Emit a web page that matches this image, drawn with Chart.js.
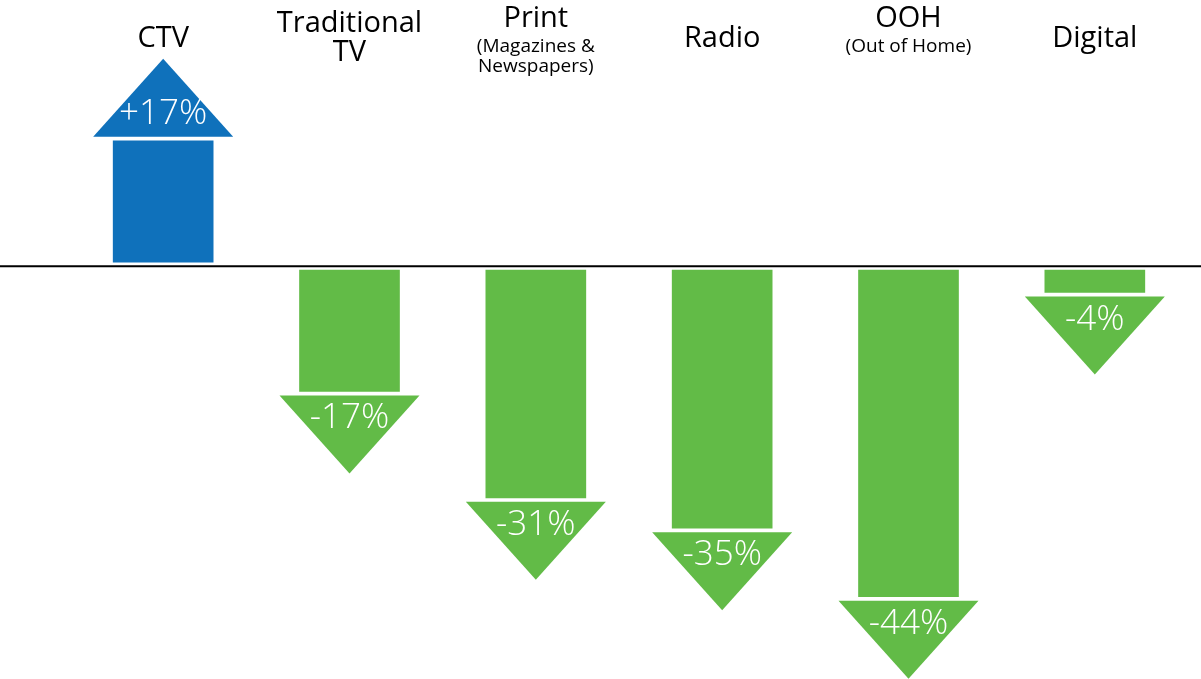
<!DOCTYPE html>
<html>
<head>
<meta charset="utf-8">
<script src="https://cdn.jsdelivr.net/npm/chart.js@4"></script>
<style>
  html, body { margin: 0; padding: 0; background: #fff; }
  #wrap { width: 1201px; height: 679px; }
</style>
</head>
<body>
<div id="wrap"><canvas id="myChart" width="1201" height="679"></canvas></div>
<script>
// media spend change by channel
const categories = ['CTV', 'Traditional TV', 'Print', 'Radio', 'OOH', 'Digital'];
const titleLines = [['CTV'], ['Traditional', 'TV'], ['Print'], ['Radio'], ['OOH'], ['Digital']];
const noteLines = [[], [], ['(Magazines &', 'Newspapers)'], [], ['(Out of Home)'], []];
const changes = [17, -17, -31, -35, -44, -4];

const upColor = 'rgb(15, 113, 187)';
const downColor = 'rgb(98, 187, 71)';

// arrow heads + percent text on each bar
const arrowHeads = {
    id: 'arrowHeads',
    afterDatasetsDraw(chart) {
        const ctx = chart.ctx;
        const meta = chart.getDatasetMeta(0);
        meta.data.forEach((bar, i) => {
            const v = changes[i];
            const dir = v >= 0 ? -1 : 1;
            const half = 70, tall = 78;
            ctx.save();
            ctx.fillStyle = v >= 0 ? upColor : downColor;
            ctx.beginPath();
            ctx.moveTo(bar.x - half, bar.y);
            ctx.lineTo(bar.x + half, bar.y);
            ctx.lineTo(bar.x, bar.y + dir * tall);
            ctx.closePath();
            ctx.fill();
            ctx.fillStyle = '#fff';
            ctx.font = '300 35px "Open Sans", sans-serif';
            ctx.textAlign = 'center';
            ctx.textBaseline = 'middle';
            ctx.fillText((v > 0 ? '+' : '') + v + '%', bar.x, bar.y + dir * 23);
            ctx.restore();
        });
    }
};

// zero line across the whole page
const zeroLine = {
    id: 'zeroLine',
    afterDatasetsDraw(chart) {
        const ctx = chart.ctx;
        const y = chart.scales.y.getPixelForValue(0);
        ctx.save();
        ctx.strokeStyle = '#000';
        ctx.lineWidth = 2;
        ctx.beginPath();
        ctx.moveTo(0, y);
        ctx.lineTo(chart.width, y);
        ctx.stroke();
        ctx.restore();
    }
};

// category headings along the top
const headings = {
    id: 'headings',
    afterDraw(chart) {
        const ctx = chart.ctx;
        const xs = chart.scales.x;
        ctx.save();
        ctx.fillStyle = '#000';
        ctx.textAlign = 'center';
        ctx.textBaseline = 'middle';
        categories.forEach((c, i) => {
            const x = xs.getPixelForValue(i);
            const t = titleLines[i], n = noteLines[i];
            let ys;
            if (n.length) ys = [19];
            else if (t.length > 1) ys = [24, 53];
            else ys = [39];
            ctx.font = '29px "Open Sans", sans-serif';
            t.forEach((line, k) => ctx.fillText(line, x, ys[k]));
            ctx.font = '19px "Open Sans", sans-serif';
            n.forEach((line, k) => ctx.fillText(line, x, 47 + k * 20));
        });
        ctx.restore();
    }
};

let ct = document.getElementById('myChart').getContext('2d');
let myChart = new Chart(ct, {
    type: 'bar',
    data: {
        labels: categories,
        datasets: [
            {
                label: 'Change',
                data: changes,
                backgroundColor: changes.map(v => v >= 0 ? upColor : downColor),
                borderColor: '#fff',
                borderWidth: 4,
                borderSkipped: false,
                barThickness: 108
            }
        ]
    },
    options: {
        responsive: false,
        animation: false,
        layout: {
            padding: { left: 70, right: 13, top: 0, bottom: 0 }
        },
        scales: {
            x: { display: false },
            y: { display: false, min: -54.3, max: 35 }
        },
        plugins: {
            legend: { display: false },
            tooltip: { enabled: false }
        }
    },
    plugins: [arrowHeads, zeroLine, headings]
});
</script>
</body>
</html>
